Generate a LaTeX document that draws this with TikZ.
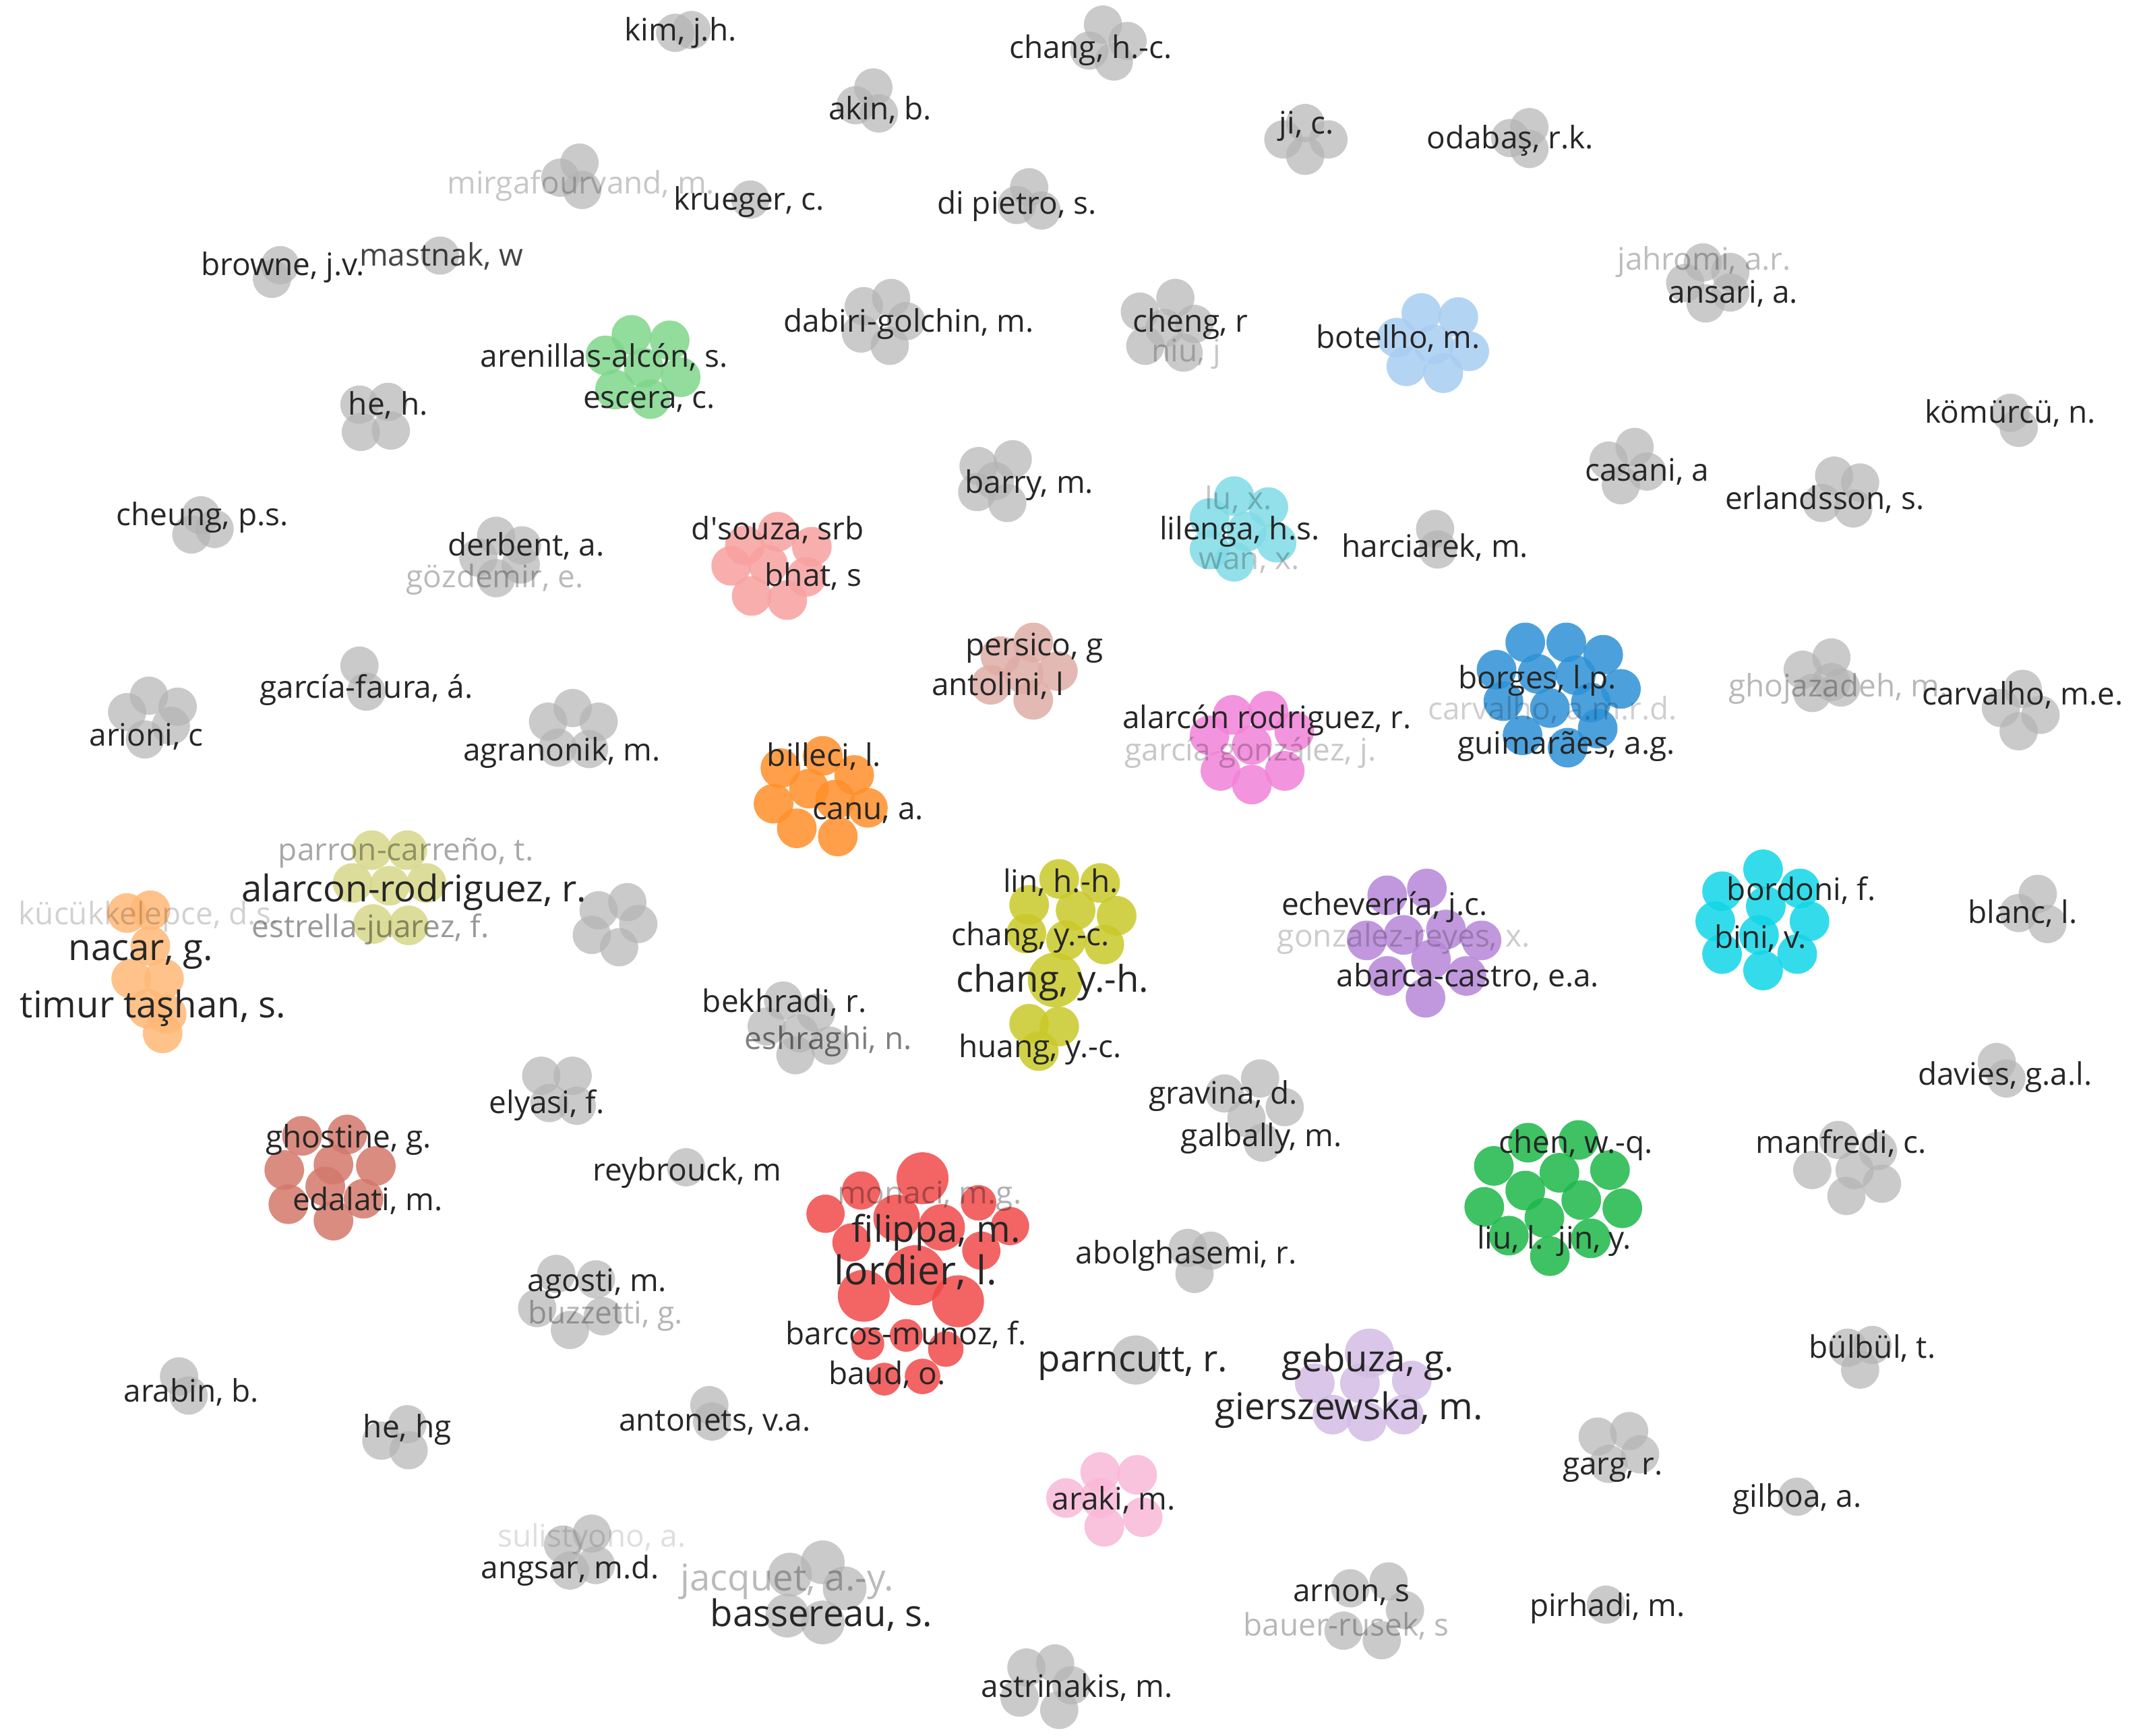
\documentclass[tikz,border=0pt]{standalone}
\usepackage{fontspec}
\setmainfont{Open Sans}
\pgfdeclarelayer{back}
\pgfsetlayers{back,main}
\definecolor{txt}{HTML}{262626}
\definecolor{grayc}{HTML}{B4B4B4}
\definecolor{cLBlue}{HTML}{A8CDF2}
\definecolor{cLGreen}{HTML}{7FD68B}
\definecolor{cLCyan}{HTML}{80DBE6}
\definecolor{cSalmon}{HTML}{F9A0A0}
\definecolor{cRosy}{HTML}{DFADA6}
\definecolor{cBlue}{HTML}{2D91D8}
\definecolor{cPink}{HTML}{F282D9}
\definecolor{cOrange}{HTML}{FF8F2A}
\definecolor{cKhaki}{HTML}{D8D88A}
\definecolor{cLOrange}{HTML}{FFB877}
\definecolor{cYG}{HTML}{C9C92A}
\definecolor{cPurple}{HTML}{B786D9}
\definecolor{cCyan}{HTML}{11D6E8}
\definecolor{cBrown}{HTML}{D4796C}
\definecolor{cGreen}{HTML}{1DB84A}
\definecolor{cLav}{HTML}{D3BDE6}
\definecolor{cLPink}{HTML}{F9B8D8}
\definecolor{cRed}{HTML}{F24A4A}
\tikzset{
  bub/.style={circle, inner sep=0pt, minimum size=#1*0.04cm, draw=none, fill opacity=0.85},
  gbub/.style={circle, inner sep=0pt, minimum size=#1*0.04cm, draw=none, fill=grayc, fill opacity=0.7},
  lab/.style={text=txt, font=\fontsize{12.9}{14}\selectfont, inner sep=0pt, anchor=mid, yshift=-0.06cm},
  labB/.style={text=txt, font=\fontsize{15.3}{17}\selectfont, inner sep=0pt, anchor=mid, yshift=-0.06cm},
  fnt/.style={text=black, text opacity=#1/100, font=\fontsize{12.9}{14}\selectfont, inner sep=0pt, anchor=mid, yshift=-0.06cm},
  fntB/.style={text=black, text opacity=#1/100, font=\fontsize{15.3}{17}\selectfont, inner sep=0pt, anchor=mid, yshift=-0.06cm},
  redge/.style={draw=cRed!70, line width=0.6pt, opacity=0.6},
}
\newcommand\gcl[2]{\foreach \cx/\cy [count=\ci] in {#2} {\node[gbub=14] (#1\ci) at (\cx,\cy) {};}}
\newcommand\ccl[3]{\foreach \cx/\cy [count=\ci] in {#3} {\node[bub=14.5, fill=#2] (#1\ci) at (\cx,\cy) {};}}
\newcommand\rcl[3]{\foreach \cx/\cy/\cr [count=\ci] in {#3} {\node[bub=\cr, fill=#2] (#1\ci) at (\cx,\cy) {};}}
\newcommand\rgcl[2]{\foreach \cx/\cy/\cr [count=\ci] in {#2} {\node[gbub=\cr] (#1\ci) at (\cx,\cy) {};}}
\begin{document}
\begin{tikzpicture}[x=0.02cm, y=-0.02cm]
\fill[white] (0,0) rectangle (1568,1270);
\useasboundingbox (0,0) rectangle (1568,1270);

% ---------- grey clusters ----------
\gcl{gk}{494/24,506/22}
\gcl{ghc}{807/18,825/30,815/45,797/37}
\gcl{gak}{639/64,626/77,643/83}
\gcl{gji}{955/90,972/102,955/114,939/102}
\gcl{god}{1119/93,1105/101,1119/109}
\gcl{gmi}{424/119,410/130,426/139}
\gcl{gkr}{549/146}
\gcl{gdp}{753/137,744/150,762/154}
\gcl{gbr}{205/194,199/204}
\gcl{gma}{322/187}
\gcl{gja}{1246/192,1266/199,1233/207,1266/214,1248/222}
\gcl{gdg}{652/218,632/224,663/235,630/244,651/253}
\gcl{gcr}{860/218,834/228,874/237,852/240,838/253,866/258}
\gcl{ghe}{263/296,284/294,264/316,286/315}
\gcl{gkm}{1471/302,1477/313}
\gcl{gba}{741/336,716/341,728/352,715/360,737/368}
\gcl{gca}{1196/327,1177/337,1205/345,1186/355}
\gcl{gch}{147/377,140/391,157/387}
\gcl{ger}{1342/348,1361/353,1333/368,1356/372}
\gcl{gde}{363/392,382/399,350/408,381/413,363/423}
\gcl{gha}{1050/387,1052/402}
\gcl{ggh}{1340/481,1319/490,1340/499,1326/507,1347/503}
\gcl{gcv}{1480/504,1464/518,1493/523,1477/535}
\gcl{ggf}{263/487,268/506}
\gcl{gar}{109/509,130/517,93/521,125/531,106/541}
\gcl{gag}{419/518,438/528,401/528,408/547,431/548}
\gcl{gam}{459/660,438/666,467/676,433/684,453/693}
\gcl{gbl}{1491/654,1477/668,1498/676}
\gcl{gbe}{573/732,597/741,561/751,585/756,607/765,582/772}
\gcl{gda}{1461/777,1468/789}
\gcl{gel}{396/787,419/787,402/807,422/809}
\gcl{ggr}{922/789,896/800,940/810,912/818,924/836}
\gcl{gmf}{1345/834,1374/842,1326/856,1357/856,1377/866,1351/875}
\gcl{gre}{502/854}
\gcl{gab}{869/913,886/915,874/932}
\gcl{gao}{407/932,436/936,393/957,441/963,417/973}
\gcl{gbu}{1352/986,1370/984,1361/1002}
\gcl{gara}{131/1007,138/1021}
\gcl{ghg}{298/1042,279/1054,299/1061}
\gcl{gan}{519/1028,521/1040}
\gcl{gga}{1169/1051,1192/1047,1200/1064,1177/1071}
\gcl{ggi}{1315/1095}
\gcl{gsu}{433/1122,412/1130,436/1145,417/1149}
\gcl{gar2}{988/1162,1016/1157,1028/1178,983/1193,1011/1200}
\gcl{gpi}{1175/1174}
\gcl{gas}{751/1220,772/1217,784/1233,746/1242,775/1251}
\rgcl{gpa}{831/995/18}
\rgcl{gjq}{602/1143/16,578/1152/16,618/1162/16,576/1182/16,602/1187/16}

% ---------- coloured clusters ----------
\ccl{bo}{cLBlue}{1040/229,1067/232,1022/247,1049/252,1075/257,1029/268,1056/273}
\ccl{ar}{cLGreen}{462/245,490/249,443/260,471/269,498/276,450/285,476/292}
\ccl{li}{cLCyan}{903/363,928/371,885/379,912/389,934/397,885/402,903/411}
\ccl{ds}{cSalmon}{569/389,594/400,545/399,535/414,562/413,590/422,550/436,576/439}
\ccl{pe}{cRosy}{756/470,732/480,774/491,749/493,725/501,756/512}
\ccl{bg}{cBlue}{1116/470,1146/470,1173/479,1095/490,1125/493,1153/494,1186/504,1100/513,1134/518,1164/514,1114/538,1147/547,1169/533}
\ccl{ac}{cPink}{902/523,928/520,947/535,885/538,916/545,940/564,893/564,916/574}
\ccl{bi}{cOrange}{602/553,571/562,625/567,592/577,566/588,611/585,635/591,583/606,613/612}
\ccl{ak}{cKhaki}{272/622,298/622,258/646,285/648,312/646,273/676,299/677}
\ccl{na}{cLOrange}{93/668,110/666,110/692,96/716,120/716,108/738,122/742,119/756}
\rcl{ln}{cYG}{775/643/14.5,805/646/14.5,753/662/14.5,787/666/14.5,817/670/14.5,751/683/14.5,780/688/14.5,808/691/14.5,772/717/20,753/749/14.5,775/751/14.5,760/769/14.5}
\ccl{ec}{cPurple}{1015/655,1044/650,1000/688,1027/684,1058/680,1084/688,1047/702,1015/714,1073/714,1043/730}
\ccl{bd}{cCyan}{1290/636,1260/652,1317/650,1292/663,1255/674,1324/674,1287/684,1260/698,1315/698,1290/710}
\ccl{gs}{cBrown}{221/831,254/830,208/856,244/852,275/853,238/868,211/881,266/877,244/893}
\ccl{ch}{cGreen}{1118/836,1155/834,1093/853,1141/858,1178/856,1116/871,1157/878,1086/883,1187/884,1130/891,1104/904,1164/906,1134/919}
\rcl{ge}{cLav}{1002/990/18,962/1012/14.5,995/1012/14.5,1033/1010/14.5,975/1035/14.5,1000/1040/14.5,1027/1035/14.5}
\ccl{ak2}{cLPink}{805/1077,832/1079,780/1096,805/1096,836/1110,808/1117}
\rcl{rd}{cRed}{675/862/19,630/871/14,716/880/13,604/888/14,739/897/14,656/891/17,689/898/17,623/909/14,718/915/14,670/933/22,632/948/19,701/952/19,635/983/12,663/977/12,692/987/13,647/1009/12,675/1007/13}

% ---------- things behind the circles ----------
\begin{pgfonlayer}{back}
\draw[redge] (rd4) to[bend right=45] (rd13);
\draw[redge] (rd2) to[bend right=40] (rd11);
\draw[redge] (rd8) to[bend right=30] (rd16);
\draw[redge] (rd1) to[bend right=20] (rd4);
\draw[redge] (rd14) -- (rd17);
\draw[redge] (rd15) -- (rd16);
\node[fnt=7] (f-huangj) at (264,314) {huang, j.};
\node[fnt=14, anchor=mid west] (f-pandit) at (490,416) {pandit, s.};
\node[fnt=10, anchor=mid east] (f-cl) at (490,528) {bandeira, c.l.};
\node[fnt=13] (f-amirael) at (436,667) {amirael, k.};
\node[fnt=7, anchor=mid west] (f-flat) at (163,856) {flatters, a.};
\node[fnt=10] (f-jia) at (1137,857) {jiang, y.-e.};
\node[fnt=12, anchor=mid east] (f-jing) at (1218,883) {jing, j.};
\node[fnt=12] (f-cir) at (1359,857) {cirelli, s.};
\node[fnt=6] (f-miya) at (805,1078) {miyamura, t.};
\end{pgfonlayer}

% ---------- faint labels on top ----------
\node[fnt=22] (f-mirg) at (425,134) {mirgafourvand, m.};
\node[fnt=26] (f-jahr) at (1247,190) {jahromi, a.r.};
\node[fnt=22] (f-niu) at (868,257) {niu, j};
\node[fnt=27] (f-goz) at (362,422) {gözdemir, e.};
\node[fnt=23] (f-lu) at (906,365) {lu, x.};
\node[fnt=23] (f-wan) at (914,409) {wan, x.};
\node[fnt=19] (f-carv) at (1136,519) {carvalho, a.m.r.d.};
\node[fnt=28] (f-ghoj) at (1345,502) {ghojazadeh, m.};
\node[fnt=22] (f-garg) at (915,549) {garcía gonzález, j.};
\node[fnt=34] (f-parr) at (297,622) {parron-carreño, t.};
\node[fnt=40] (f-estr) at (271,678) {estrella-juarez, f.};
\node[fnt=18] (f-kuc) at (109,669) {kücükkelepce, d.s.};
\node[fnt=20] (f-gonz) at (1027,685) {gonzalez-reyes, x.};
\node[fnt=50] (f-eshr) at (606,760) {eshraghi, n.};
\node[fnt=31] (f-mona) at (680,873) {monaci, m.g.};
\node[fnt=29] (f-buzz) at (443,961) {buzzetti, g.};
\node[fntB=27] (f-jacq) at (576,1156) {jacquet, a.-y.};
\node[fnt=28] (f-baue) at (985,1189) {bauer-rusek, s};
\node[fnt=13] (f-suli) at (433,1124) {sulistyono, a.};

% ---------- dark labels ----------
\node[lab] (l-kim) at (498,22) {kim, j.h.};
\node[lab] (l-changhc) at (798,35) {chang, h.-c.};
\node[lab] (l-akin) at (644,80) {akin, b.};
\node[lab] (l-ji) at (956,90) {ji, c.};
\node[lab] (l-odab) at (1105,101) {odabaş, r.k.};
\node[lab] (l-krue) at (548,146) {krueger, c.};
\node[lab] (l-dipi) at (744,149) {di pietro, s.};
\node[lab] (l-brow) at (207,194) {browne, j.v.};
\node[fnt=73] (l-mast) at (323,187) {mastnak, w};
\node[lab] (l-ansa) at (1268,214) {ansari, a.};
\node[lab] (l-dabi) at (665,235) {dabiri-golchin, m.};
\node[lab] (l-chengr) at (871,235) {cheng, r};
\node[lab] (l-bote) at (1023,247) {botelho, m.};
\node[lab] (l-aren) at (442,261) {arenillas-alcón, s.};
\node[lab] (l-esce) at (475,291) {escera, c.};
\node[lab] (l-heh) at (284,296) {he, h.};
\node[lab] (l-komu) at (1471,302) {kömürcü, n.};
\node[lab] (l-barr) at (753,353) {barry, m.};
\node[lab] (l-casa) at (1205,344) {casani, a};
\node[lab] (l-cheu) at (148,377) {cheung, p.s.};
\node[lab] (l-erla) at (1335,365) {erlandsson, s.};
\node[lab] (l-lile) at (907,387) {lilenga, h.s.};
\node[lab] (l-dsou) at (569,387) {d\textquotesingle souza, srb};
\node[lab] (l-derb) at (385,399) {derbent, a.};
\node[lab] (l-bhat) at (595,421) {bhat, s};
\node[lab] (l-harc) at (1050,400) {harciarek, m.};
\node[lab] (l-pers) at (757,472) {persico, g};
\node[lab] (l-anto) at (730,501) {antolini, l};
\node[lab] (l-borg) at (1125,496) {borges, l.p.};
\node[lab] (l-guim) at (1146,544) {guimarães, a.g.};
\node[lab] (l-carv) at (1480,508) {carvalho, m.e.};
\node[lab] (l-garf) at (268,503) {garcía-faura, á.};
\node[lab] (l-ario) at (107,538) {arioni, c};
\node[lab] (l-agra) at (411,549) {agranonik, m.};
\node[lab] (l-alarc) at (927,525) {alarcón rodriguez, r.};
\node[lab] (l-bill) at (603,553) {billeci, l.};
\node[lab] (l-canu) at (635,592) {canu, a.};
\node[lab] (l-linh) at (776,645) {lin, h.-h.};
\node[lab] (l-chyc) at (754,684) {chang, y.-c.};
\node[lab] (l-huyc) at (761,766) {huang, y.-c.};
\node[lab] (l-eche) at (1013,662) {echeverría, j.c.};
\node[lab] (l-abar) at (1074,714) {abarca-castro, e.a.};
\node[lab] (l-bord) at (1318,651) {bordoni, f.};
\node[lab] (l-bini) at (1288,686) {bini, v.};
\node[lab] (l-blan) at (1480,668) {blanc, l.};
\node[lab] (l-bekh) at (574,733) {bekhradi, r.};
\node[lab] (l-davi) at (1467,786) {davies, g.a.l.};
\node[lab] (l-elya) at (400,807) {elyasi, f.};
\node[lab] (l-grav) at (895,800) {gravina, d.};
\node[lab] (l-galb) at (923,831) {galbally, m.};
\node[lab] (l-ghos) at (255,832) {ghostine, g.};
\node[lab] (l-edal) at (269,878) {edalati, m.};
\node[lab] (l-chen) at (1153,836) {chen, w.-q.};
\node[lab] (l-liul) at (1105,906) {liu, l.};
\node[lab] (l-jiny) at (1167,906) {jin, y.};
\node[lab] (l-manf) at (1347,836) {manfredi, c.};
\node[lab] (l-reyb) at (503,856) {reybrouck, m};
\node[lab] (l-abol) at (868,917) {abolghasemi, r.};
\node[lab] (l-agos) at (437,937) {agosti, m.};
\node[lab] (l-barc) at (663,976) {barcos-munoz, f.};
\node[lab] (l-baud) at (649,1005) {baud, o.};
\node[lab] (l-bulb) at (1370,986) {bülbül, t.};
\node[lab] (l-arab) at (140,1018) {arabin, b.};
\node[lab] (l-hehg) at (298,1044) {he, hg};
\node[lab] (l-anton) at (523,1039) {antonets, v.a.};
\node[lab] (l-garg) at (1180,1071) {garg, r.};
\node[lab] (l-gilb) at (1315,1095) {gilboa, a.};
\node[lab] (l-arak) at (815,1097) {araki, m.};
\node[lab] (l-angs) at (417,1147) {angsar, m.d.};
\node[lab] (l-arno) at (989,1164) {arnon, s};
\node[lab] (l-pirh) at (1176,1175) {pirhadi, m.};
\node[lab] (l-astr) at (788,1234) {astrinakis, m.};

\node[labB] (l-alrod) at (303,652) {alarcon-rodriguez, r.};
\node[labB] (l-naca) at (103,695) {nacar, g.};
\node[labB] (l-timu) at (112,737) {timur taşhan, s.};
\node[labB] (l-chyh) at (770,718) {chang, y.-h.};
\node[labB] (l-fili) at (685,901) {filippa, m.};
\node[labB, font=\fontsize{16.5}{18}\selectfont] (l-lord) at (670,932) {lordier, l.};
\node[labB] (l-parn) at (829,996) {parncutt, r.};
\node[labB] (l-gebu) at (1001,996) {gebuza, g.};
\node[labB] (l-gier) at (987,1031) {gierszewska, m.};
\node[labB] (l-bass) at (601,1182) {bassereau, s.};
\end{tikzpicture}
\end{document}
